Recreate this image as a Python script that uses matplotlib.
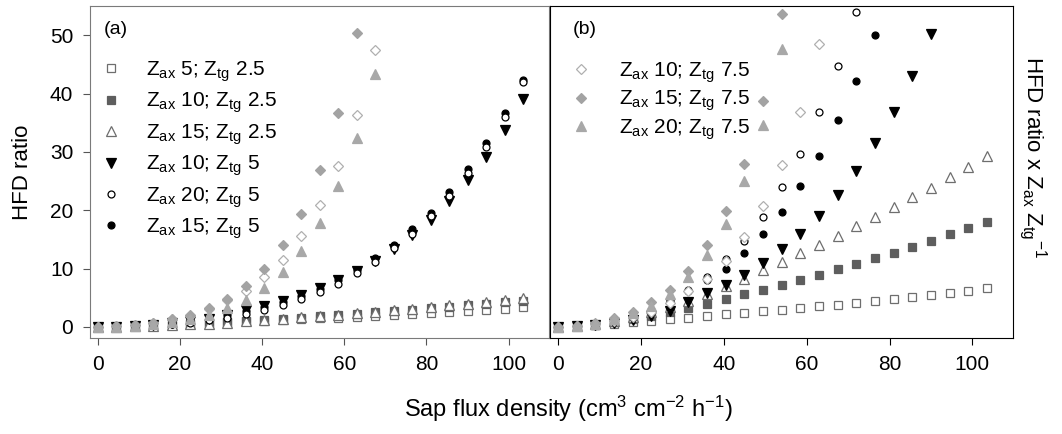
import matplotlib
matplotlib.use("Agg")
import matplotlib.pyplot as plt

plt.rcParams['font.family'] = ['Liberation Sans', 'DejaVu Sans']
plt.rcParams['mathtext.fontset'] = 'custom'
plt.rcParams['mathtext.rm'] = 'Liberation Sans'
plt.rcParams['mathtext.it'] = 'Liberation Sans:italic'
plt.rcParams['mathtext.bf'] = 'Liberation Sans:bold'

sap_flux = [0, 4.5, 9, 13.5, 18, 22.5, 27, 31.5, 36, 40.5, 45, 49.5,
            54, 58.5, 63, 67.5, 72, 76.5, 81, 85.5, 90, 94.5, 99, 103.5]

hfd_ax5_tg2p5 = [0, 0.05, 0.15, 0.28, 0.4, 0.54, 0.68, 0.8, 0.97, 1.08, 1.2, 1.35,
                 1.45, 1.6, 1.77, 1.9, 2.08, 2.22, 2.4, 2.55, 2.75, 2.9, 3.1, 3.35]
hfd_ax10_tg2p5 = [0, 0.03, 0.09, 0.2, 0.33, 0.47, 0.62, 0.8, 1.0, 1.2, 1.4, 1.6,
                  1.81, 2.01, 2.24, 2.48, 2.71, 2.95, 3.18, 3.44, 3.7, 3.98, 4.24, 4.5]
hfd_ax15_tg2p5 = [0, 0.025, 0.08, 0.17, 0.28, 0.42, 0.57, 0.75, 0.94, 1.18, 1.38, 1.63,
                  1.85, 2.1, 2.35, 2.6, 2.87, 3.13, 3.42, 3.7, 3.98, 4.28, 4.58, 4.88]
hfd_ax10_tg5 = [0, 0.05, 0.15, 0.35, 0.6, 0.95, 1.4, 2.1, 2.9, 3.55, 4.45, 5.5,
                6.65, 8.0, 9.5, 11.3, 13.35, 15.8, 18.4, 21.5, 25.1, 29.1, 33.7, 39.0]
hfd_ax20_tg5 = [0, 0.03, 0.1, 0.25, 0.45, 0.73, 1.15, 1.58, 2.15, 2.9, 3.7, 4.7,
                6.0, 7.4, 9.2, 11.2, 13.5, 16.0, 19.0, 22.4, 26.3, 30.9, 35.9, 41.9]
hfd_ax15_tg5 = [0, 0.03, 0.12, 0.3, 0.55, 0.9, 1.4, 2.05, 2.7, 3.33, 4.23, 5.3,
                6.57, 8.03, 9.77, 11.8, 14.07, 16.7, 19.6, 23.1, 27.0, 31.6, 36.6, 42.4]
hfd_ax10_tg7p5 = [0, 0.1, 0.35, 0.75, 1.3, 1.95, 3.1, 4.6, 6.15, 8.5, 11.55, 15.6,
                  20.85, 27.65, 36.4, 47.4]
hfd_ax15_tg7p5 = [0, 0.1, 0.35, 0.75, 1.3, 2.1, 3.2, 4.8, 7.0, 9.95, 14.0, 19.4,
                  26.85, 36.7, 50.4]
hfd_ax20_tg7p5 = [0, 0.05, 0.2, 0.5, 0.9, 1.37, 2.1, 3.2, 4.65, 6.6, 9.4, 13.0,
                  17.85, 24.1, 32.3, 43.3]

# (zax text, ztg text, zax, ztg, values, marker, face, edge, size)
series = [
    ('5', '2.5', 5, 2.5, hfd_ax5_tg2p5, 's', 'white', '#6e6e6e', 5.5),
    ('10', '2.5', 10, 2.5, hfd_ax10_tg2p5, 's', '#5e5e5e', '#5e5e5e', 5.5),
    ('15', '2.5', 15, 2.5, hfd_ax15_tg2p5, '^', 'white', '#6e6e6e', 6.5),
    ('10', '5', 10, 5, hfd_ax10_tg5, 'v', 'black', 'black', 6.5),
    ('15', '5', 15, 5, hfd_ax15_tg5, 'o', 'black', 'black', 5),
    ('20', '5', 20, 5, hfd_ax20_tg5, 'o', 'white', 'black', 5),
    ('10', '7.5', 10, 7.5, hfd_ax10_tg7p5, 'D', 'white', '#b0b0b0', 5),
    ('15', '7.5', 15, 7.5, hfd_ax15_tg7p5, 'D', '#a3a3a3', '#a3a3a3', 5),
    ('20', '7.5', 20, 7.5, hfd_ax20_tg7p5, '^', '#a8a8a8', '#a8a8a8', 6.5),
]

def make_label(zax_s, ztg_s):
    return r'Z$_{\mathrm{ax}}$ ' + zax_s + r'; Z$_{\mathrm{tg}}$ ' + ztg_s

fig = plt.figure(figsize=(10.62, 4.34), dpi=100)
ax1 = fig.add_axes([0.0847, 0.2212, 0.4322, 0.765])
ax2 = fig.add_axes([0.5179, 0.2212, 0.4360, 0.765])

handles = {}
for zax_s, ztg_s, zax, ztg, vals, mk, fc, ec, ms in series:
    xs = sap_flux[:len(vals)]
    h, = ax1.plot(xs, vals, linestyle='none', marker=mk, markersize=ms,
                  markerfacecolor=fc, markeredgecolor=ec, markeredgewidth=0.9)
    # panel b: HFD ratio scaled by Zax / Ztg
    ax2.plot(xs, [v * zax / ztg for v in vals], linestyle='none', marker=mk,
             markersize=ms, markerfacecolor=fc, markeredgecolor=ec,
             markeredgewidth=0.9)
    handles[make_label(zax_s, ztg_s)] = h

order_a = [make_label('5', '2.5'), make_label('10', '2.5'), make_label('15', '2.5'),
           make_label('10', '5'), make_label('20', '5'), make_label('15', '5')]
order_b = [make_label('10', '7.5'), make_label('15', '7.5'), make_label('20', '7.5')]

ax1.legend([handles[k] for k in order_a], order_a, loc='upper left',
           bbox_to_anchor=(0.0, 0.87), frameon=False, fontsize=15,
           handlelength=1.0, handletextpad=1.2, labelspacing=0.33,
           borderpad=0.2, borderaxespad=0.3)
ax2.legend([handles[k] for k in order_b], order_b, loc='upper left',
           bbox_to_anchor=(0.0, 0.9), frameon=False, fontsize=15,
           handlelength=1.0, handletextpad=1.3, labelspacing=0.2,
           borderpad=0.2, borderaxespad=0.8)

for ax in (ax1, ax2):
    ax.set_xlim(-1.9, 109.8)
    ax.set_ylim(-1.9, 55)
    ax.set_xticks([0, 20, 40, 60, 80, 100])
    ax.tick_params(direction='out', length=5, labelsize=15, pad=7)

for sp in ax1.spines.values():
    sp.set_color('#7a7a7a')
ax1.tick_params(colors='#555555', labelcolor='black')
ax1.set_yticks([0, 10, 20, 30, 40, 50])
ax2.tick_params(axis='y', left=False, labelleft=False)

ax1.text(0.03, 0.955, '(a)', transform=ax1.transAxes, fontsize=14, va='top')
ax2.text(0.05, 0.955, '(b)', transform=ax2.transAxes, fontsize=14, va='top')

ax1.set_ylabel('HFD ratio', fontsize=16, labelpad=12)
ax2.yaxis.set_label_position('right')
ax2.set_ylabel(r'HFD ratio x Z$_{\mathrm{ax}}$ Z$_{\mathrm{tg}}$$^{-1}$',
               fontsize=16, rotation=-90, labelpad=26)
ax2.yaxis.label.set_y(0.545)

fig.text(0.535, 0.04, r'Sap flux density (cm$^3$ cm$^{-2}$ h$^{-1}$)',
         fontsize=17, ha='center')

fig.savefig('out.png', dpi=100)
